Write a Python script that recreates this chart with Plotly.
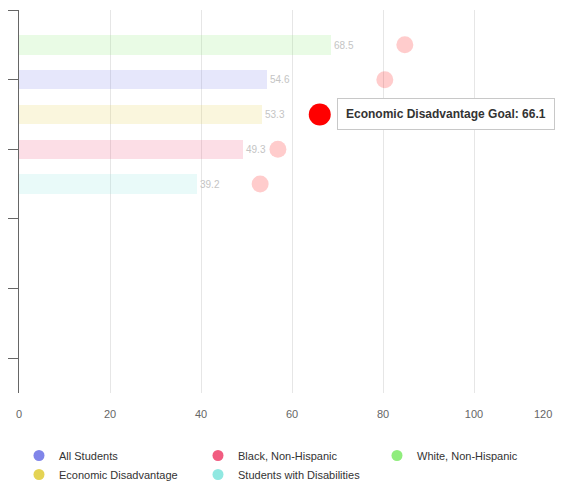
import plotly.graph_objects as go

# ---- data ----
groups = ["All Students", "Black, Non-Hispanic", "White, Non-Hispanic",
          "Economic Disadvantage", "Students with Disabilities"]
values = [54.6, 49.3, 68.5, 53.3, 39.2]
goals = [80.4, 56.9, 84.8, 66.1, 53.0]
colors = ["#8085e9", "#f15c80", "#90ed7d", "#e4d354", "#91e8e1"]
x_ticks = [0, 20, 40, 60, 80, 100]
x_last_tick = 120
y_ticks = [0, 2, 4, 6, 8, 10]
highlight = "Economic Disadvantage"

FONT = "Liberation Sans, Arial, sans-serif"
W, H = 563, 483


def rgba(hexc, a):
    h = hexc.lstrip("#")
    r, g, b = int(h[0:2], 16), int(h[2:4], 16), int(h[4:6], 16)
    return f"rgba({r},{g},{b},{a})"


# display slot: ordered by value, descending, starting at 1
order = sorted(range(len(groups)), key=lambda i: -values[i])
slot = {i: k + 1 for k, i in enumerate(order)}

fig = go.Figure()

for i, g in enumerate(groups):
    fig.add_trace(go.Bar(
        x=[values[i]], y=[slot[i]], orientation="h",
        marker=dict(color=rgba(colors[i], 0.2), line=dict(width=0)),
        width=0.56,
        text=[f"{values[i]:.1f}"], textposition="outside",
        textfont=dict(color="#c4c4c4", size=10, family=FONT),
        cliponaxis=False,
        showlegend=False, legendgroup=g, name=g, hoverinfo="skip",
    ))

# legend-only entries with circular symbols
for i, g in enumerate(groups):
    fig.add_trace(go.Scatter(
        x=[None], y=[None], mode="markers", name=g, legendgroup=g,
        marker=dict(color=colors[i], size=11, symbol="circle"),
        showlegend=True,
    ))

# goal markers
gx = [goals[i] for i in range(len(groups))]
gy = [slot[i] for i in range(len(groups))]
gcol = ["rgb(255,0,0)" if groups[i] == highlight else "rgba(255,0,0,0.2)"
        for i in range(len(groups))]
gsize = [22 if groups[i] == highlight else 17 for i in range(len(groups))]
fig.add_trace(go.Scatter(
    x=gx, y=gy, mode="markers",
    marker=dict(color=gcol, size=gsize, line=dict(width=0), opacity=1),
    showlegend=False, hoverinfo="skip", cliponaxis=False,
))

hi = groups.index(highlight)
tip = f"<b>{highlight} Goal: {goals[hi]}</b>"
fig.add_annotation(
    x=goals[hi], y=slot[hi], xref="x", yref="y", text=tip, showarrow=False,
    xanchor="left", yanchor="middle", xshift=17,
    font=dict(family=FONT, size=12, color="#333333"),
    bgcolor="white", borderpad=8, borderwidth=1, bordercolor="#c8c8c8",
)

# last x tick label, kept inside the visible page like the original
fig.add_annotation(
    x=x_last_tick, y=-0.055, xref="x", yref="paper", text=str(x_last_tick),
    showarrow=False, xanchor="right", yanchor="middle", xshift=-11,
    font=dict(family=FONT, size=11, color="#666666"),
)

fig.update_layout(
    width=W, height=H,
    margin=dict(l=11, r=6, t=2, b=98, autoexpand=False),
    paper_bgcolor="white", plot_bgcolor="white",
    font=dict(family=FONT, size=11, color="#333333"),
    bargap=0, barmode="overlay",
    xaxis=dict(
        range=[0, x_last_tick], tickvals=x_ticks, ticktext=[str(t) for t in x_ticks],
        showgrid=True, gridcolor="#e6e6e6", gridwidth=1,
        zeroline=False, showline=False, ticks="",
        tickfont=dict(family=FONT, size=11, color="#666666"),
        ticklabelstandoff=13, fixedrange=True, automargin=False,
    ),
    yaxis=dict(
        range=[11, 0], tickvals=y_ticks, showticklabels=False,
        ticks="outside", ticklen=11, tickcolor="#666666", tickwidth=1,
        showline=True, linecolor="#666666", linewidth=1,
        showgrid=False, zeroline=False, fixedrange=True, automargin=False,
    ),
    legend=dict(
        orientation="h", x=0, xanchor="left",
        yref="container", y=1 - 433 / H, yanchor="top",
        entrywidth=134, entrywidthmode="pixels",
        font=dict(family=FONT, size=11, color="#333333"),
        itemclick=False, itemdoubleclick=False, tracegroupgap=0,
        traceorder="normal",
    ),
    showlegend=True,
)

fig.write_html("out.html")
